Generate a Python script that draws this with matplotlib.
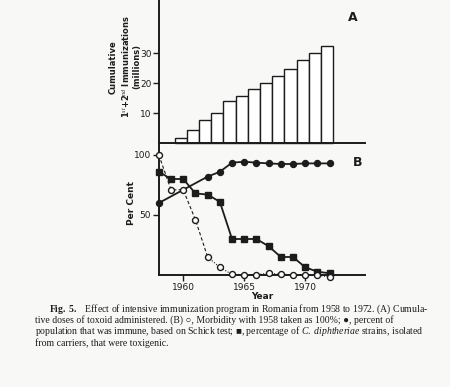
import matplotlib
matplotlib.use("Agg")
import matplotlib.pyplot as plt

# (A) cumulative 1st+2nd immunizations, millions
bar_years = list(range(1960, 1973))
doses = [1.8, 4.4, 7.8, 10.0, 13.9, 15.7, 17.9, 20.0, 22.4, 24.8, 27.6, 30.1, 32.4]

# (B) per cent
years = list(range(1958, 1973))
morbidity = [100, 71, 71, 46, 15, 6.4, 0.5, 0.3, 0.3, 1.4, 0.6, 0.2, 0.2, -0.3, -1.5]
immune_years = [1958, 1962, 1963, 1964, 1965, 1966, 1967, 1968, 1969, 1970, 1971, 1972]
immune = [60, 82, 86, 93.6, 94.4, 93.6, 93, 92.5, 92.5, 93, 93, 93]
toxigenic = [86, 80, 80, 68, 67, 61, 30, 30, 30, 24, 15, 15, 6.4, 2.8, 1.4]

ink = "#1c1c1c"
plt.rcParams["mathtext.fontset"] = "custom"
plt.rcParams["mathtext.it"] = "Liberation Serif:italic"
plt.rcParams["mathtext.bf"] = "Liberation Serif:bold"
plt.rcParams["mathtext.rm"] = "Liberation Serif"

fig = plt.figure(figsize=(4.5, 3.87), dpi=100, facecolor="#f8f8f6")

# top panel
ax1 = fig.add_axes([0.353, 0.5995, 0.458, 0.4005])
ax1.set_facecolor("none")
ax1.bar([y - 0.2 for y in bar_years], doses, width=1.0, color="white",
        edgecolor=ink, linewidth=1.0)
ax1.set_xlim(1958, 1974.9)
ax1.set_ylim(-4, 47.7)
ax1.set_yticks([10, 20, 30])
ax1.set_xticks([])
for s in ["top", "right"]:
    ax1.spines[s].set_visible(False)
ax1.spines["bottom"].set_position(("data", 0))
for s in ["left", "bottom"]:
    ax1.spines[s].set_color(ink)
    ax1.spines[s].set_linewidth(1.4)
ax1.tick_params(axis="y", direction="out", length=4, width=1.0, colors=ink,
                labelsize=6.5, pad=1)
ax1.text(1973.9, 42, "A", fontsize=9, fontweight="bold", color=ink, ha="center", va="center")

# bottom panel
ax2 = fig.add_axes([0.353, 0.2894, 0.458, 0.3101])
ax2.set_facecolor("none")
ax2.plot(years, toxigenic, color=ink, lw=1.3, marker="s", ms=4.5, mfc=ink,
         mec=ink, clip_on=False, zorder=3)
ax2.plot(immune_years, immune, color=ink, lw=1.3, marker="o", ms=4.3, mfc=ink,
         mec=ink, clip_on=False, zorder=3)
ax2.plot(years[:5], morbidity[:5], color=ink, lw=0.8, ls=(0, (3, 2)), clip_on=False, zorder=2)
ax2.plot(years[4:], morbidity[4:], color=ink, lw=0.8, ls=(0, (1, 1.5)), clip_on=False, zorder=2)
ax2.plot(years, morbidity, ls="none", marker="o", ms=4.3, mfc="white", mec=ink,
         mew=1.0, clip_on=False, zorder=4)
ax2.set_xlim(1958, 1974.9)
ax2.set_ylim(0, 100)
ax2.set_yticks([50, 100])
ax2.set_xticks([1960, 1965, 1970])
for s in ["top", "right"]:
    ax2.spines[s].set_visible(False)
for s in ["left", "bottom"]:
    ax2.spines[s].set_color(ink)
    ax2.spines[s].set_linewidth(1.4)
ax2.tick_params(direction="out", length=4, width=1.0, colors=ink, labelsize=6.5, pad=1.5)
ax2.text(1974.3, 94, "B", fontsize=9, fontweight="bold", color=ink, ha="center", va="center")
ax2.set_xlabel("Year", fontsize=6.5, fontweight="bold", color=ink, labelpad=0.5)

fig.text(0.278, 0.827, "Cumulative\n1$^{st}$+2$^{nd}$ Immunizations\n(millions)",
         rotation=90, ha="center", va="center", fontsize=6, fontweight="bold",
         color=ink, linespacing=1.25)
fig.text(0.293, 0.475, "Per Cent", rotation=90, ha="center", va="center",
         fontsize=6.5, fontweight="bold", color=ink)

caption = [
    (0.108, 0.194, "$\\bf{Fig.\\ 5.}$   Effect of intensive immunization program in Romania from 1958 to 1972. (A) Cumula-"),
    (0.078, 0.165, "tive doses of toxoid administered. (B) \u25cb, Morbidity with 1958 taken as 100%; \u25cf, percent of"),
    (0.078, 0.136, "population that was immune, based on Schick test; \u25a0, percentage of $\\it{C.\\ diphtheriae}$ strains, isolated"),
    (0.078, 0.107, "from carriers, that were toxigenic."),
]
for x, y, t in caption:
    fig.text(x, y, t, fontsize=7.0, color=ink, family=["Liberation Serif", "DejaVu Serif"],
             va="baseline")

fig.savefig("out.png", dpi=100, facecolor=fig.get_facecolor())
